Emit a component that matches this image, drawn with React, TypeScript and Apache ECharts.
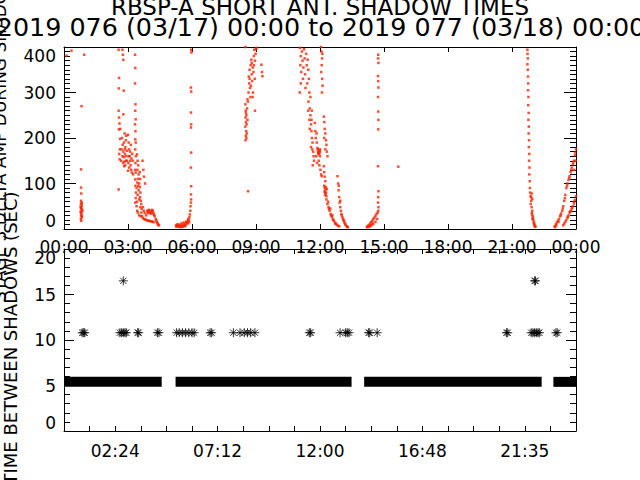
import React, { useEffect, useRef } from "react";
import * as echarts from "echarts";

const TITLE_LINE_1 = "RBSP-A SHORT ANT. SHADOW TIMES";
const TITLE_LINE_2 = "2019 076 (03/17) 00:00 to 2019 077 (03/18) 00:00";
const TOP_Y_TITLE = "STAGE 3 DELTA AMP DURING SHADOW";
const BOTTOM_Y_TITLE = "TIME BETWEEN SHADOWS (SEC)";

const TOP_X_LABELS = ["00:00", "03:00", "06:00", "09:00", "12:00", "15:00", "18:00", "21:00", "00:00"];
const BOTTOM_X_LABEL_HOURS = [2.4, 7.2, 12, 16.8, 21.6];
const BOTTOM_X_LABELS = ["02:24", "07:12", "12:00", "16:48", "21:35"];

// Top panel: delta amplitude (hour of day, value)
const AMP_A = [[0.12, 381], [0.35, 392]];
const AMP_B = [
  [0.82, 270], [0.8, 131], [0.8, 91], [0.81, 78], [0.8, 62], [0.82, 58], [0.79, 54], [0.83, 50], [0.8, 46],
  [0.84, 42], [0.78, 38], [0.82, 34], [0.8, 30], [0.83, 26], [0.79, 22], [0.81, 18], [0.84, 28], [0.86, 40], [0.95, 383],
  [0.78, 48], [0.84, 56], [0.82, 44], [0.8, 36],
];
const AMP_C = [
  [2.56, 394], [2.58, 332], [2.57, 309], [2.56, 260], [2.58, 245], [2.6, 232], [2.57, 219], [2.62, 175], [2.59, 165],
  [2.61, 153], [2.56, 87], [2.63, 198], [2.64, 220],
  [2.74, 394], [2.76, 383], [2.78, 372], [2.8, 304], [2.78, 252], [2.72, 200], [2.75, 185], [2.78, 170], [2.8, 158],
  [2.83, 148], [2.86, 165], [2.88, 180], [2.9, 195], [2.84, 210], [2.92, 160], [2.95, 150], [2.87, 140], [2.82, 138],
  [2.74, 160], [2.77, 145], [2.92, 205], [2.7, 175], [2.68, 150], [2.81, 190], [2.85, 175], [2.9, 150], [2.95, 172],
  [3.0, 207], [3.03, 190], [3.05, 175], [3.08, 160], [3.02, 145], [3.1, 150], [3.12, 140], [3.15, 130], [3.18, 124],
  [3.06, 135], [3.2, 165], [3.22, 150], [3.13, 185], [3.0, 128], [3.24, 120], [3.1, 170], [3.16, 155], [3.04, 160],
  [3.33, 383], [3.34, 354], [3.33, 320], [3.35, 274], [3.34, 260], [3.36, 241], [3.33, 230], [3.35, 215], [3.34, 197],
  [3.36, 190], [3.34, 175], [3.37, 160], [3.35, 145], [3.33, 130], [3.36, 124], [3.34, 109], [3.35, 95], [3.37, 80],
  [3.36, 68], [3.34, 58],
  [3.42, 164], [3.45, 150], [3.48, 140], [3.44, 130], [3.5, 120], [3.47, 110], [3.52, 100], [3.55, 92], [3.5, 85],
  [3.58, 80], [3.56, 70], [3.6, 62], [3.62, 55], [3.58, 48], [3.64, 44], [3.62, 36], [3.45, 75], [3.42, 60], [3.4, 50],
  [3.43, 40], [3.46, 36], [3.52, 30], [3.4, 90], [3.55, 125], [3.48, 95], [3.53, 65], [3.44, 102], [3.57, 110],
  [3.68, 150], [3.72, 130], [3.75, 115], [3.8, 100], [3.7, 48], [3.74, 40], [3.78, 35], [3.85, 30], [3.66, 28],
  [3.9, 40], [3.95, 38], [4.0, 41], [4.05, 37], [4.1, 39], [4.15, 36], [4.2, 34], [4.25, 28], [4.3, 22], [4.35, 16],
  [4.4, 11], [4.45, 8], [3.92, 35], [4.02, 35], [4.12, 42], [3.97, 42], [4.07, 34], [4.17, 40], [4.22, 31], [4.32, 19],
  [4.38, 13], [4.42, 9],
  [3.7, 24], [3.8, 21], [3.9, 19], [4.0, 18], [4.1, 17], [4.2, 15], [3.6, 28], [3.75, 22], [3.85, 20], [3.95, 18],
  [4.05, 17], [4.15, 16],
];
const AMP_D = [
  [5.25, 8], [5.3, 6], [5.35, 7], [5.4, 5], [5.45, 8], [5.5, 6], [5.55, 9], [5.6, 7], [5.65, 10], [5.7, 12], [5.75, 14],
  [5.8, 17], [5.85, 20], [5.88, 26], [5.9, 32], [5.92, 40], [5.93, 50], [5.95, 58], [5.3, 10], [5.5, 12], [5.7, 8],
  [5.8, 12], [5.6, 14], [5.27, 5], [5.37, 10], [5.47, 4], [5.57, 5], [5.67, 6], [5.72, 16], [5.82, 22], [5.87, 15],
  [5.96, 394], [5.97, 388], [5.95, 311], [5.96, 302], [5.95, 256], [5.96, 230], [5.95, 223], [5.96, 168], [5.95, 135],
  [5.96, 94], [5.95, 76], [5.96, 65],
];
const AMP_E = [
  [8.5, 274], [8.52, 260], [8.51, 245], [8.53, 235], [8.5, 225], [8.54, 215], [8.52, 205], [8.51, 195], [8.55, 250],
  [8.56, 230], [8.58, 265], [8.6, 240], [8.57, 210], [8.62, 280], [8.65, 300], [8.68, 320], [8.66, 335], [8.7, 350],
  [8.72, 310], [8.74, 290], [8.75, 360], [8.78, 372], [8.8, 340], [8.82, 325], [8.85, 355], [8.88, 345], [8.9, 380],
  [8.92, 394], [8.95, 370], [8.98, 385], [9.0, 395], [9.02, 398], [8.86, 300], [8.84, 290], [9.25, 361], [9.28, 345],
  [9.3, 336], [8.63, 83], [8.95, 260], [8.5, 400], [8.53, 255], [8.55, 200], [8.6, 285], [8.7, 330], [8.76, 315],
  [8.8, 365], [8.9, 360], [8.94, 330],
];
const AMP_F = [
  [11.06, 398], [11.1, 380], [11.08, 360], [11.12, 345], [11.15, 390], [11.18, 370], [11.2, 330], [11.22, 355],
  [11.25, 395], [11.28, 375], [11.3, 340], [11.32, 310], [11.35, 385], [11.38, 360], [11.4, 320], [11.05, 300], [11.1, 320],
  [11.42, 372], [11.45, 350], [11.48, 330], [11.5, 300], [11.46, 280], [11.52, 265], [11.55, 250], [11.5, 240],
  [11.58, 230], [11.6, 215], [11.62, 200], [11.65, 190], [11.58, 180], [11.68, 170], [11.7, 160], [11.72, 150],
  [11.66, 140], [11.45, 260], [11.55, 290], [11.62, 260], [11.52, 220], [11.6, 240], [11.64, 175],
  [11.76, 233], [11.78, 215], [11.8, 200], [11.85, 190], [11.88, 178], [11.9, 170], [11.92, 165], [11.95, 172],
  [11.98, 168], [12.0, 160], [11.94, 150], [11.97, 140], [12.02, 130], [12.05, 120], [11.82, 160], [11.86, 145],
  [12.08, 116], [11.9, 175], [12.0, 175], [11.93, 168], [11.96, 165], [11.99, 172], [11.84, 210],
  [12.05, 400], [12.07, 390], [12.1, 375], [12.08, 360], [12.06, 345], [12.1, 330], [12.12, 315], [12.09, 300], [12.11, 385],
  [12.18, 247], [12.2, 235], [12.22, 220], [12.25, 210], [12.2, 200], [12.28, 195], [12.3, 185], [12.25, 175],
  [12.32, 170], [12.35, 160],
  [12.18, 138], [12.2, 125], [12.22, 115], [12.25, 105], [12.2, 95], [12.22, 90], [12.25, 85], [12.28, 80], [12.24, 75],
  [12.3, 72], [12.27, 92], [12.32, 88], [12.21, 82], [12.26, 78],
  [12.3, 65], [12.35, 55], [12.4, 48], [12.45, 40], [12.5, 33], [12.55, 27], [12.6, 22], [12.65, 18], [12.7, 14],
  [12.75, 11], [12.8, 9], [12.85, 7], [12.38, 60], [12.48, 45], [12.58, 30], [12.42, 44], [12.52, 30], [12.62, 20],
  [12.72, 12], [12.9, 6],
  [12.82, 116], [12.85, 100], [12.87, 85], [12.9, 70], [12.92, 58], [12.95, 48], [12.98, 40], [13.0, 33], [13.05, 26],
  [13.1, 20], [13.15, 14], [13.2, 9], [13.25, 6], [13.3, 4], [12.88, 95], [12.95, 62], [13.02, 30], [13.08, 22],
  [13.12, 17], [13.18, 11], [13.28, 5],
];
const AMP_G = [
  [14.2, 5], [14.25, 7], [14.3, 9], [14.35, 12], [14.4, 15], [14.45, 18], [14.5, 22], [14.55, 25], [14.6, 29], [14.65, 33],
  [14.7, 36], [14.3, 5], [14.4, 8], [14.5, 12], [14.6, 16], [14.68, 22], [14.22, 4], [14.35, 6], [14.45, 10],
  [14.73, 383], [14.72, 375], [14.74, 365], [14.72, 336], [14.73, 325], [14.74, 311], [14.72, 290], [14.73, 258],
  [14.74, 240], [14.73, 219], [14.72, 138], [14.74, 83], [14.73, 70], [14.72, 58], [14.74, 48], [14.73, 40],
  [15.67, 137],
];
const AMP_H = [
  [21.72, 394], [21.73, 385], [21.74, 375], [21.72, 362], [21.74, 350], [21.75, 335], [21.76, 320], [21.75, 305],
  [21.77, 290], [21.76, 272], [21.78, 255], [21.77, 240], [21.79, 225], [21.78, 210], [21.8, 195], [21.79, 180],
  [21.81, 165], [21.8, 150], [21.82, 135], [21.81, 120], [21.83, 105], [21.84, 90], [21.85, 80], [21.87, 72], [21.9, 62],
  [21.88, 55], [21.92, 48], [21.95, 40], [21.93, 35], [21.97, 28], [22.0, 20], [22.02, 15], [22.05, 10], [22.08, 7],
  [22.1, 5], [21.9, 70], [21.92, 78], [21.95, 66], [21.98, 25], [22.03, 12], [21.94, 32], [21.96, 22], [22.06, 6],
];
const AMP_I = [
  [23.0, 6], [23.05, 10], [23.1, 14], [23.15, 18], [23.2, 22], [23.25, 28], [23.3, 34], [23.35, 40], [23.4, 50],
  [23.45, 62], [23.5, 75], [23.55, 90], [23.6, 100], [23.65, 108], [23.7, 116], [23.75, 125], [23.8, 135], [23.85, 142],
  [23.9, 150], [23.95, 162], [24.0, 175], [23.98, 150], [23.92, 130], [23.02, 4], [23.08, 8], [23.18, 16], [23.28, 30],
  [23.38, 45], [23.48, 68], [23.58, 95], [23.68, 112], [23.78, 130], [23.88, 146], [23.96, 168],
  [23.4, 8], [23.45, 12], [23.5, 16], [23.55, 20], [23.6, 25], [23.65, 30], [23.7, 36], [23.75, 40], [23.8, 44],
  [23.85, 50], [23.9, 56], [23.95, 64], [24.0, 72], [23.62, 27], [23.72, 38], [23.82, 47], [23.92, 60],
];

// Bottom panel: time between shadows
const BAND_VALUE = 5.4;
const BAND_SEGMENTS = [[0, 4.58], [5.23, 13.48], [14.07, 22.39], [22.94, 24]];
const STAR_POINTS = [
  [0.85, 10.8], [0.92, 10.8], [0.97, 10.8],
  [2.62, 10.8], [2.7, 10.8], [2.78, 10.8], [2.86, 10.8], [2.92, 10.8],
  [3.45, 10.8], [3.5, 10.8],
  [4.38, 10.8], [4.45, 10.8],
  [5.28, 10.8], [5.4, 10.8], [5.55, 10.8], [5.7, 10.8], [5.85, 10.8], [6.0, 10.8], [6.1, 10.8],
  [6.85, 10.8], [6.92, 10.8],
  [7.94, 10.8], [8.25, 10.8], [8.45, 10.8], [8.6, 10.8], [8.75, 10.8], [8.95, 10.8],
  [11.5, 10.8], [11.56, 10.8],
  [12.94, 10.8], [13.2, 10.8], [13.28, 10.8], [13.36, 10.8],
  [14.28, 10.8], [14.33, 10.8], [14.68, 10.8],
  [20.74, 10.8], [20.8, 10.8],
  [21.9, 10.8], [21.98, 10.8], [22.06, 10.8], [22.14, 10.8], [22.22, 10.8], [22.28, 10.8],
  [23.06, 10.8], [23.12, 10.8],
  [2.78, 16.5], [22.06, 16.5], [22.1, 16.5],
];

const FONT = "DejaVu Sans";
const RED = "#ff2200";
const ASTERISK = "path://M4 0L4 8M0 4L8 4M1.2 1.2L6.8 6.8M1.2 6.8L6.8 1.2";

export default function App() {
  const ref = useRef<HTMLDivElement>(null);
  useEffect(() => {
    if (!ref.current) return;
    const chart = echarts.init(ref.current, null, { renderer: "svg" });
    const black = { color: "#000", width: 1 };
    const labelStyle = { color: "#000", fontSize: 17, fontFamily: FONT };
    const xCommon = (grid: number, pos: string, interval: number, label: any) => ({
      gridIndex: grid,
      type: "value",
      min: 0,
      max: 24,
      interval,
      position: pos,
      axisLine: { show: true, onZero: false, lineStyle: black },
      axisTick: { show: true, inside: true, length: 5, lineStyle: black },
      splitLine: { show: false },
      axisLabel: label,
    });
    const yCommon = (grid: number, pos: string, max: number, interval: number, minorSplit: number, tickLen: number, label: any) => ({
      gridIndex: grid,
      type: "value",
      min: 0,
      max,
      interval,
      position: pos,
      axisLine: { show: true, onZero: false, lineStyle: black },
      axisTick: { show: true, inside: true, length: tickLen, lineStyle: black },
      minorTick: { show: true, splitNumber: minorSplit, length: 6, lineStyle: black },
      splitLine: { show: false },
      minorSplitLine: { show: false },
      axisLabel: label,
    });
    const ampData = [...AMP_A, ...AMP_B, ...AMP_C, ...AMP_D, ...AMP_E, ...AMP_F, ...AMP_G, ...AMP_H, ...AMP_I];
    const bandSeries = BAND_SEGMENTS.map((seg) => ({
      type: "line",
      xAxisIndex: 2,
      yAxisIndex: 2,
      data: [[seg[0], BAND_VALUE], [seg[1], BAND_VALUE]],
      symbol: "none",
      lineStyle: { color: "#000", width: 10, cap: "butt" },
      silent: true,
    }));
    chart.setOption({
      animation: false,
      backgroundColor: "#fff",
      grid: [
        { left: 64, right: 64, top: 47, height: 182 },
        { left: 64, right: 64, top: 249, height: 182 },
      ],
      xAxis: [
        xCommon(0, "bottom", 3, {
          ...labelStyle,
          margin: 9,
          formatter: (v: number) => TOP_X_LABELS[Math.round(v / 3)] ?? "",
        }),
        xCommon(0, "top", 3, { show: false }),
        xCommon(1, "bottom", 1.2, {
          ...labelStyle,
          margin: 11,
          formatter: (v: number) => {
            const i = BOTTOM_X_LABEL_HOURS.findIndex((h) => Math.abs(h - v) < 0.01);
            return i >= 0 ? BOTTOM_X_LABELS[i] : "";
          },
        }),
        xCommon(1, "top", 1.2, { show: false }),
      ],
      yAxis: [
        yCommon(0, "left", 400, 100, 10, 12, {
          ...labelStyle,
          margin: 8,
          verticalAlignMinLabel: "bottom",
          verticalAlignMaxLabel: "top",
        }),
        yCommon(0, "right", 400, 100, 10, 12, { show: false }),
        yCommon(1, "left", 20, 5, 5, 10, {
          ...labelStyle,
          margin: 8,
          verticalAlignMinLabel: "bottom",
          verticalAlignMaxLabel: "top",
        }),
        yCommon(1, "right", 20, 5, 5, 10, { show: false }),
      ],
      series: [
        {
          type: "scatter",
          xAxisIndex: 0,
          yAxisIndex: 0,
          data: ampData,
          symbol: "rect",
          symbolSize: [2.5, 2.5],
          itemStyle: { color: RED },
          silent: true,
        },
        ...bandSeries,
        {
          type: "scatter",
          xAxisIndex: 2,
          yAxisIndex: 2,
          data: STAR_POINTS,
          symbol: ASTERISK,
          symbolSize: 9,
          itemStyle: { color: "rgba(0,0,0,0)", borderColor: "#000", borderWidth: 1 },
          silent: true,
        },
      ],
      graphic: [
        {
          type: "text",
          x: 320,
          y: 7,
          style: { text: TITLE_LINE_1, font: `23px "${FONT}"`, fill: "#000", textAlign: "center", textVerticalAlign: "middle" },
        },
        {
          type: "text",
          x: 321,
          y: 27,
          style: { text: TITLE_LINE_2, font: `25.4px "${FONT}"`, fill: "#000", textAlign: "center", textVerticalAlign: "middle" },
        },
        {
          type: "text",
          x: 8,
          y: 138,
          rotation: Math.PI / 2,
          style: { text: TOP_Y_TITLE, font: `17px "${FONT}"`, fill: "#000", textAlign: "center", textVerticalAlign: "bottom" },
        },
        {
          type: "text",
          x: 19,
          y: 338,
          rotation: Math.PI / 2,
          style: { text: BOTTOM_Y_TITLE, font: `18px "${FONT}"`, fill: "#000", textAlign: "center", textVerticalAlign: "bottom" },
        },
      ],
    });
    return () => chart.dispose();
  }, []);
  return (
    <div
      ref={ref}
      style={{ position: "fixed", left: 0, top: 0, width: 640, height: 480, background: "#fff" }}
    />
  );
}
